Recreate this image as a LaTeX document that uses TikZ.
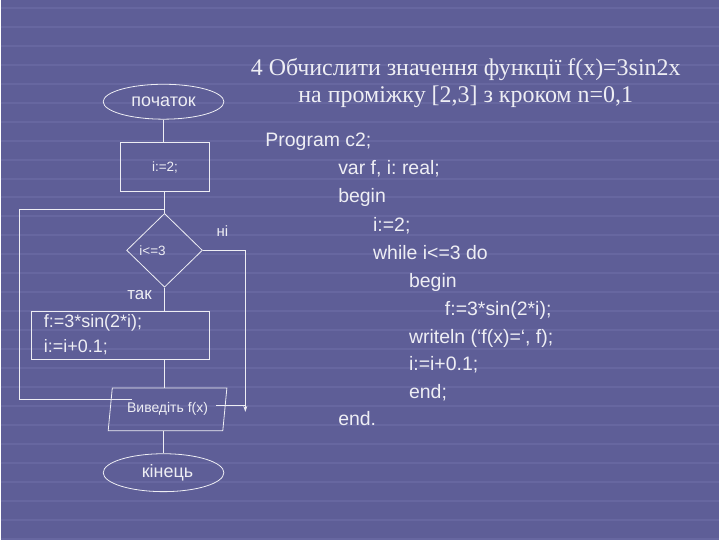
\documentclass[tikz,border=0pt]{standalone}
\usepackage{fontspec}
\setmainfont{Liberation Sans}
\newfontfamily\titlefont{Liberation Serif}
\usepackage{tikz}
\usepackage{xcolor}
\usetikzlibrary{
    arrows.meta,
    shapes.geometric,
    calc,
    positioning
}
\definecolor{bgblue}{HTML}{5E5E97}
\definecolor{bgline}{HTML}{6767A0}
\definecolor{ink}{HTML}{EEEEF4}
\frenchspacing

\begin{document}
\begin{tikzpicture}[x=1pt, y=-1pt,
                        every node/.style={text=ink},
                        flow/.style={draw=ink, line width=0.8pt},
                        term/.style={flow, ellipse, minimum width=121pt, minimum height=35pt, inner sep=0pt, font=\fontsize{18}{20}\selectfont},
                        proc/.style={flow, rectangle, inner sep=0pt},
                        dec/.style={flow, diamond, minimum width=76pt, minimum height=74pt, inner sep=0pt},
                        io/.style={flow, trapezium, trapezium left angle=77, trapezium right angle=103, trapezium stretches=true, minimum width=120pt, minimum height=43pt, inner sep=0pt, font=\fontsize{14}{16}\selectfont},
                        code/.style={anchor=base west, inner sep=0pt, font=\fontsize{19.5}{22}\selectfont},
                        link/.style={draw=ink, line width=0.8pt}]
                        % background
                        \fill[bgblue] (0,0) rectangle (720,540);
                        \foreach \y in {8,27,...,540}
                            \draw[bgline, line width=2pt] (0,\y) -- (720,\y);

                        % title
                        \node[font=\titlefont\fontsize{24}{27}\selectfont, align=center] (title) at (466, 83)
                            {4 Обчислити значення функції f(x)=3sin2x\\на проміжку [2,3] з кроком n=0,1};

                        % flowchart
                        \node[term] (start) at (163, 102) {початок};
                        \node[proc, minimum width=89pt, minimum height=49pt, font=\fontsize{13.5}{15}\selectfont] (init) at (164.5, 167.5) {i:=2;};
                        \node[dec, label={[xshift=-12pt, font=\fontsize{13.5}{15}\selectfont]center:i<=3}] (cond) at (164, 251) {};
                        \node[proc, text width=153pt, inner xsep=13pt, minimum height=48pt, align=left, font=\fontsize{18}{25}\selectfont] (body) at (119.5, 336) {f:=3*sin(2*i);\\i:=i+0.1;};
                        \node[io] (out) at (167, 410.5) {Виведіть f(x)};
                        \node[term, minimum height=38pt] (stop) at (163, 474) {\hspace{8pt}кінець};

                        \node[font=\fontsize{15}{17}\selectfont] (no) at (222, 232) {ні};
                        \node[font=\fontsize{17}{19}\selectfont] (yes) at (139, 296) {так};

                        \coordinate (join) at (164, 210);
                        \coordinate (loopleft) at (18, 210);
                        \coordinate (loopin) at (131, 401);
                        \coordinate (noend) at (245, 413);
                        \coordinate (noin) at (216, 407);

                        \draw[link] (start) -- (start |- init.north);
                        \draw[link] (init.south -| join) -- (cond.north);
                        \draw[link] (cond.south) -- (cond.south |- body.north);
                        \draw[link] (body.south -| cond.south) -- (cond.south |- out.north);
                        \draw[link] (start.south |- out.south) -- (stop.north);
                        \draw[link] (loopin) -| (loopleft) -- (join);
                        \draw[link, -{Stealth[length=6pt, width=4pt]}] (cond.east) -| (noend);
                        \draw[link] (noin) -- (noin -| noend);

                        % program text
                        \node[code] (l1) at (265, 147) {Program c2;};
                        \node[code] (l2) at (338, 175) {var f, i: real;};
                        \node[code] (l3) at (338, 203) {begin};
                        \node[code] (l4) at (373, 232) {i:=2;};
                        \node[code] (l5) at (373, 260) {while i<=3 do};
                        \node[code] (l6) at (409, 288) {begin};
                        \node[code] (l7) at (445, 316) {f:=3*sin(2*i);};
                        \node[code] (l8) at (409, 344) {writeln (‘f(x)=‘, f);};
                        \node[code] (l9) at (409, 372) {i:=i+0.1;};
                        \node[code] (l10) at (409, 400) {end;};
                        \node[code] (l11) at (338, 427) {end.};
                    \end{tikzpicture}
\end{document}
